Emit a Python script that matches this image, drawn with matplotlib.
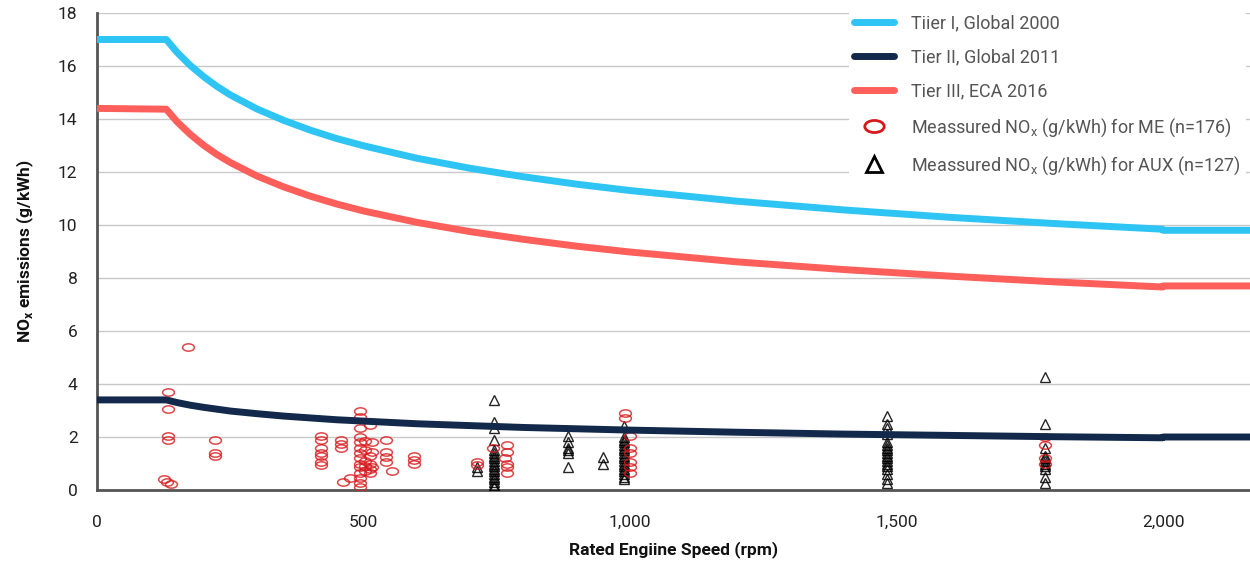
import matplotlib
matplotlib.use('Agg')
import matplotlib.pyplot as plt
from matplotlib.path import Path
from matplotlib.lines import Line2D
from matplotlib.ticker import FuncFormatter
import numpy as np

# IMO limit curves (rpm, g/kWh)
rpm = [0, 130, 150, 175, 200, 225, 250, 300, 350, 400, 450, 500, 600, 700, 800,
       900, 1000, 1200, 1400, 1600, 1800, 1999, 2000, 2200]
tier1 = [17.0, 17.0, 16.52, 16.02, 15.60, 15.23, 14.91, 14.38, 13.95, 13.58, 13.26,
         12.99, 12.52, 12.14, 11.82, 11.54, 11.30, 10.90, 10.57, 10.29, 10.05,
         9.84, 9.8, 9.8]
tier3 = [14.4, 14.37, 13.90, 13.42, 13.01, 12.66, 12.36, 11.85, 11.44, 11.09, 10.79,
         10.53, 10.10, 9.75, 9.46, 9.20, 8.98, 8.61, 8.32, 8.07, 7.85,
         7.66, 7.7, 7.7]
tier2 = [3.4, 3.40, 3.30, 3.20, 3.12, 3.05, 2.98, 2.88, 2.79, 2.72, 2.65,
         2.60, 2.50, 2.43, 2.36, 2.31, 2.26, 2.18, 2.11, 2.06, 2.01,
         1.97, 2.0, 2.0]

# measured main engines
me_rpm = [133, 133, 133, 133, 126, 132, 139, 171,
          221, 221, 221,
          420, 420, 420, 420, 420, 420, 420,
          458, 458, 458, 462, 475,
          493, 493, 493, 493, 493, 493, 493, 493, 493, 493, 493, 493, 493, 493,
          503, 503, 503, 503, 503,
          512, 512, 512, 512, 512,
          516, 516, 516,
          542, 542, 542, 542, 553,
          595, 595, 595,
          713, 713, 743, 769, 769, 769, 769, 769, 765,
          991, 991, 1000, 1000, 1000, 1000, 1000, 1000,
          1779, 1779, 1779, 1779]
me_nox = [3.7, 3.05, 2.05, 1.9, 0.4, 0.32, 0.22, 5.4,
          1.9, 1.4, 1.3,
          2.05, 1.9, 1.6, 1.4, 1.3, 1.05, 0.95,
          1.9, 1.75, 1.6, 0.3, 0.45,
          3.0, 2.75, 2.35, 2.0, 1.8, 1.6, 1.4, 1.2, 1.0, 0.85, 0.65, 0.45, 0.25, 0.1,
          1.85, 1.5, 1.1, 0.9, 0.7,
          2.45, 1.3, 1.0, 0.8, 0.65,
          1.8, 1.45, 0.85,
          1.9, 1.45, 1.25, 1.05, 0.7,
          1.3, 1.15, 1.0,
          1.05, 0.95, 1.6, 1.7, 1.45, 1.0, 0.85, 0.65, 1.2,
          2.9, 2.7, 2.05, 1.6, 1.4, 1.05, 0.87, 0.65,
          2.0, 1.7, 1.2, 1.0]

# measured auxiliary engines
aux_rpm = [745] * 19 + [713, 713] + [884] * 6 + [949, 949] + [989] * 18 \
    + [1482] * 18 + [1779] * 11
aux_nox = [3.4, 2.55, 2.35, 1.9, 1.5, 1.4, 1.3, 1.2, 1.1, 1.0, 0.9, 0.8, 0.7,
           0.6, 0.5, 0.4, 0.3, 0.2, 0.1,
           0.85, 0.7,
           2.05, 1.8, 1.6, 1.5, 1.4, 0.87,
           1.25, 1.0,
           2.4, 2.0, 1.9, 1.8, 1.7, 1.6, 1.5, 1.4, 1.3, 1.2, 1.1, 1.0, 0.9, 0.8,
           0.7, 0.6, 0.5, 0.4,
           2.8, 2.5, 2.35, 2.1, 1.8, 1.7, 1.6, 1.5, 1.4, 1.3, 1.2, 1.1, 1.0, 0.9,
           0.8, 0.6, 0.4, 0.25,
           4.25, 2.5, 1.6, 1.3, 1.2, 1.1, 1.0, 0.9, 0.8, 0.5, 0.25]

blue = '#2ec4f3'
navy = '#13294b'
salmon = '#fe5f5a'
red = '#d7191c'

circ = Path.unit_circle()
ellipse = Path(circ.vertices * np.array([1.0, 0.62]), circ.codes)

tickfont = ['Roboto', 'DejaVu Sans']

fig = plt.figure(figsize=(12.5, 5.63), dpi=100)
ax = fig.add_axes([97 / 1250, 1 - 490 / 563, 1 - 97 / 1250, (490 - 13) / 563])

ax.plot(aux_rpm, aux_nox, linestyle='none', marker='^', ms=7, mfc='none',
        mec='black', mew=1.0, alpha=0.85, zorder=3)
ax.plot(me_rpm, me_nox, linestyle='none', marker=ellipse, ms=8.5, mfc='none',
        mec=red, mew=1.1, alpha=0.8, zorder=4)

ax.plot(rpm, tier1, color=blue, lw=5, solid_capstyle='butt', zorder=5)
ax.plot(rpm, tier2, color=navy, lw=5, solid_capstyle='butt', zorder=5)
ax.plot(rpm, tier3, color=salmon, lw=5, solid_capstyle='butt', zorder=5)

ax.set_xlim(0, 2163)
ax.set_ylim(0, 18)
ax.set_yticks(range(0, 19, 2))
ax.set_xticks([0, 500, 1000, 1500, 2000])
ax.xaxis.set_major_formatter(FuncFormatter(lambda v, p: f'{int(v):,}'))
ax.grid(axis='y', color='#c8c8c8', lw=1)
ax.set_axisbelow(True)

for s in ['top', 'right']:
    ax.spines[s].set_visible(False)
for s in ['left', 'bottom']:
    ax.spines[s].set_color('#555555')
    ax.spines[s].set_linewidth(2)

ax.tick_params(length=0, labelsize=12.5, colors='#222222')
ax.tick_params(axis='x', pad=18)
ax.tick_params(axis='y', pad=14)
for lab in ax.get_xticklabels() + ax.get_yticklabels():
    lab.set_family(tickfont)

ax.set_xlabel('Rated Engiine Speed (rpm)', family=tickfont, fontweight='bold',
              fontsize=12.5, color='#111111', labelpad=8)
ax.set_ylabel(r'NO$_\mathregular{x}$ emissions (g/kWh)', family=tickfont,
              fontweight='bold', fontsize=12.5, color='#111111', labelpad=16)

handles = [
    Line2D([], [], color=blue, lw=5, solid_capstyle='round'),
    Line2D([], [], color=navy, lw=5, solid_capstyle='round'),
    Line2D([], [], color=salmon, lw=5, solid_capstyle='round'),
    Line2D([], [], linestyle='none', marker=ellipse, ms=14, mfc='none',
           mec=red, mew=2),
    Line2D([], [], linestyle='none', marker='^', ms=12, mfc='none',
           mec='black', mew=2),
]
labels = ['Tiier I, Global 2000', 'Tier II, Global 2011', 'Tier III, ECA 2016',
          r'Meassured NO$_\mathregular{x}$ (g/kWh) for ME (n=176)',
          r'Meassured NO$_\mathregular{x}$ (g/kWh) for AUX (n=127)']
leg = fig.legend(handles, labels, loc='upper left',
                 bbox_to_anchor=(840 / 1250, 1.0), frameon=True,
                 facecolor='white', edgecolor='none', framealpha=1,
                 prop={'family': tickfont, 'size': 13.0},
                 handlelength=2.2, handletextpad=0.95,
                 labelspacing=0.88, borderpad=0.3)
for t in leg.get_texts():
    t.set_color('#555555')
leg.set_zorder(10)

fig.savefig('out.png', dpi=100)
